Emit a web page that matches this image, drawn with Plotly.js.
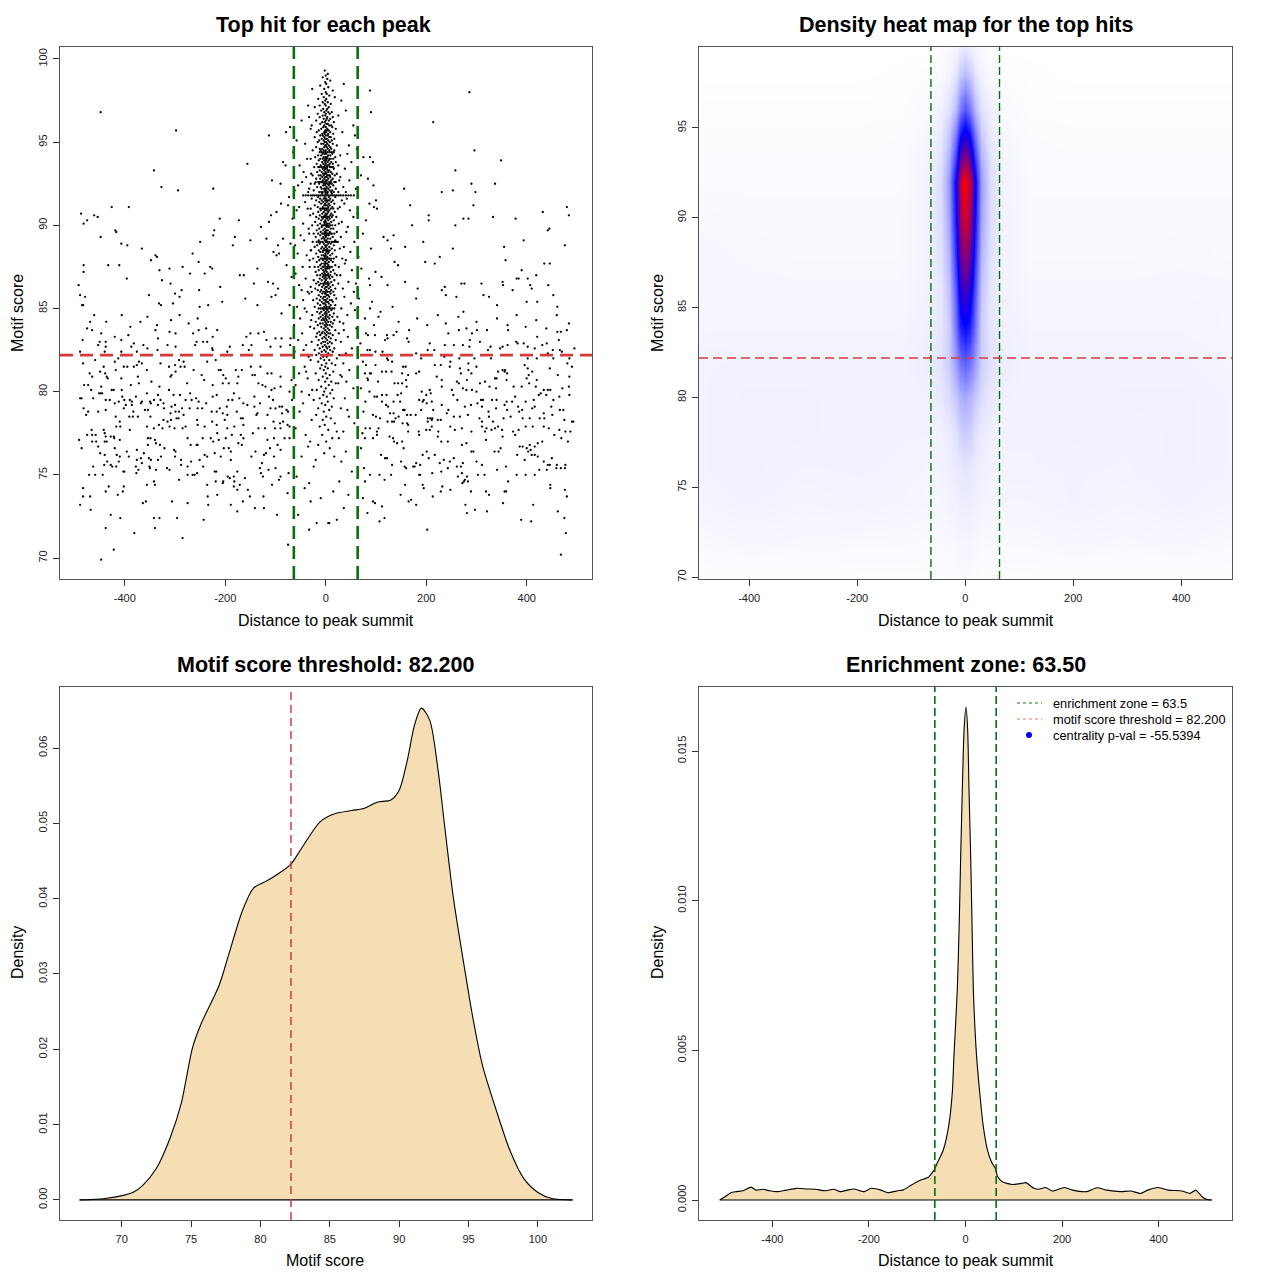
<!DOCTYPE html>
<html><head><meta charset="utf-8">
<script src="https://cdn.plot.ly/plotly-3.0.1.min.js"></script>
<style>html,body{margin:0;padding:0;background:#fff}#chart{width:1280px;height:1280px}</style>
</head><body><div id="chart"></div>
<script>
// ---------------- DATA ----------------
const enrichmentZone = 63.5;
const scoreThreshold = 82.2;
const distTicks = [-400,-200,0,200,400];
const distTickLabels = ["-400","-200","0","200","400"];

// Top hits away from the summit, upper part (score above ~83.7) and the extreme lows
const upperHits = [
[-448,96.8],[-298,95.7],[-342,93.3],[-327,92.3],[-294,92.1],[-224,92.2],[-156,93.7],[-113,95.4],[286,98.0],[214,96.2],
[296,94.5],[349,93.9],[258,93.3],[290,92.5],[337,92.5],[231,92.0],[253,92.1],[298,92.0],[156,92.2],[168,91.2],
[294,91.2],[480,91.1],[484,90.6],[432,90.8],[378,90.4],[333,90.5],[274,90.4],[284,90.4],[205,90.6],[205,90.3],
[258,90.0],[172,90.0],[-487,90.7],[-482,90.1],[-475,90.3],[-461,90.6],[-454,90.5],[-448,89.3],[-426,91.1],[-392,91.1],
[-433,87.6],[-411,87.6],[-482,87.6],[-482,87.2],[-492,86.4],[-489,85.8],[-479,85.7],[-485,85.2],[-419,89.7],[-417,89.6],
[-407,88.9],[-395,88.8],[-396,86.8],[-366,88.6],[-348,87.9],[-339,88.2],[-336,88.1],[-331,87.3],[-311,87.4],[-326,86.7],
[-309,86.5],[-285,87.5],[-270,87.1],[-287,86.1],[-300,85.9],[-265,88.3],[-253,87.8],[-250,89.0],[-222,89.7],[-224,89.4],
[-211,90.4],[-185,88.8],[-181,89.3],[-173,90.3],[-171,87.0],[-163,87.0],[-150,89.1],[-129,89.9],[-113,90.2],[-118,89.2],
[-136,87.4],[-143,86.5],[-210,86.3],[-230,87.5],[-226,87.4],[-241,87.1],[-252,86.1],[-352,85.8],[-332,85.3],[-291,85.7],
[-234,85.2],[-206,85.4],[-160,85.6],[-136,85.2],[-108,85.7],[-115,86.6],[-105,86.5],[-98,88.2],[-95,88.8],[-93,88.3],
[-89,91.3],[-109,90.6],[-107,92.7],[-85,93.8],[-79,95.6],[-73,91.7],[88,98.1],[90,96.8],[88,94.1],[94,93.8],
[100,91.5],[96,91.1],[87,91.3],[115,89.3],[135,89.4],[123,89.1],[130,88.6],[137,87.8],[144,87.6],[158,88.7],
[158,86.6],[111,86.9],[123,86.4],[88,86.4],[183,86.2],[180,85.6],[194,89.0],[198,87.8],[217,87.7],[227,88.1],
[231,86.1],[237,86.3],[253,88.6],[239,85.8],[260,85.7],[270,86.5],[274,84.8],[276,86.5],[310,86.5],[314,85.8],
[325,85.7],[341,85.2],[355,88.7],[358,87.9],[352,86.6],[353,86.4],[372,86.1],[380,86.8],[390,87.3],[384,86.8],
[402,86.8],[407,86.4],[410,86.2],[419,87.0],[394,89.1],[421,85.4],[400,85.4],[443,86.4],[453,85.8],[435,87.7],
[446,87.7],[442,89.7],[445,89.8],[461,85.1],[476,88.8],
[-483,85.2],[-461,84.6],[-437,84.2],[-469,84.2],[-475,83.8],[-406,84.6],[-328,85.2],[-304,85.3],[-251,85.1],
[-389,83.9],[-369,84.2],[-355,84.5],[-336,84.0],[-308,84.3],[-291,84.6],[-273,84.1],[-255,84.4],[-238,83.8],
[88,85.0],[109,84.8],[133,85.1],[96,84.0],[145,84.2],[166,83.7],[182,84.4],[202,84.0],[223,84.6],[239,84.1],
[264,84.5],[280,83.8],[300,84.2],[321,83.7],[341,84.4],[362,84.0],[380,84.6],[398,83.9],[419,84.3],[439,83.8],
[460,84.6],[484,84.1],
[-422,70.5],[-447,69.9],[-381,71.5],[-285,71.2],[-75,70.8],[202,71.7],[478,71.5],[468,70.2],
[-18,72.1],[-33,71.7],[-33,74.5],[7,72.1]
];

// Top hits left of the summit, lower part
const leftLowerHits = [
[-465,83.7],[-447,83.5],[-420,83.3],[-393,83.4],[-339,83.7],[-334,83.2],[-311,83.6],[-299,83.5],[-264,83.5],[-253,83.7],
[-225,83.3],[-216,83.7],[-158,83.3],[-150,83.5],[-134,83.5],[-123,83.6],[-118,83.1],[-100,83.2],[-88,83.2],[-484,83.1],
[-453,82.8],[-450,83.0],[-438,83.0],[-438,82.7],[-407,83.1],[-387,82.7],[-382,82.9],[-363,82.8],[-355,82.6],[-315,82.8],
[-299,82.7],[-260,82.8],[-257,83.0],[-244,83.0],[-236,83.0],[-226,82.6],[-225,82.5],[-191,82.7],[-165,82.8],[-148,82.8],
[-110,82.7],[-90,82.7],[-71,82.8],[-335,82.5],[-489,82.4],[-440,82.4],[-407,82.4],[-376,82.4],[-196,82.4],[-153,82.5],
[-483,81.7],[-459,81.9],[-442,81.5],[-413,82.0],[-420,81.8],[-372,81.8],[-366,81.7],[-329,81.7],[-292,81.9],[-283,81.8],
[-289,81.5],[-281,81.5],[-236,81.8],[-219,81.9],[-209,81.3],[-449,81.2],[-439,81.1],[-418,81.3],[-402,81.5],[-395,81.5],
[-376,81.6],[-356,81.3],[-382,81.5],[-312,81.5],[-300,81.6],[-299,81.2],[-263,81.3],[-213,81.3],[-204,81.0],[-179,81.3],
[-167,81.3],[-149,81.5],[-146,81.0],[-141,81.0],[-130,81.5],[-116,81.1],[-108,81.1],[-470,81.1],[-465,80.9],[-436,80.9],
[-434,80.8],[-407,80.8],[-374,80.9],[-309,80.9],[-307,81.0],[-247,81.0],[-199,80.8],[-174,80.9],[-134,80.5],[-90,80.9],
[-473,80.4],[-481,80.4],[-467,80.1],[-447,80.3],[-445,79.9],[-426,80.1],[-422,80.1],[-406,80.1],[-388,80.4],[-372,80.5],
[-347,80.6],[-331,80.3],[-312,80.1],[-276,80.5],[-242,80.7],[-225,80.4],[-205,80.5],[-193,80.5],[-176,80.5],[-126,80.4],
[-120,80.3],[-108,80.1],[-102,80.2],[-90,80.3],[-72,80.0],[-463,79.6],[-451,79.9],[-448,79.9],[-405,79.7],[-401,79.5],
[-390,79.5],[-378,79.7],[-368,79.3],[-356,79.9],[-342,79.5],[-350,79.4],[-334,79.8],[-329,79.5],[-303,79.8],[-290,79.8],
[-279,79.5],[-270,79.9],[-267,79.5],[-258,79.6],[-253,79.4],[-238,79.3],[-225,79.7],[-217,79.8],[-194,79.5],[-186,79.5],
[-183,79.9],[-172,79.6],[-164,79.3],[-156,79.2],[-142,79.7],[-113,79.7],[-105,79.5],[-489,79.6],[-486,79.6],[-438,79.5],
[-430,79.5],[-420,79.3],[-412,79.4],[-398,79.2],[-386,79.2],[-386,79.4],[-366,79.4],[-348,79.3],[-334,79.2],[-323,79.3],
[-307,79.1],[-300,79.2],[-292,78.8],[-286,79.0],[-271,79.0],[-255,79.0],[-211,79.0],[-197,79.1],[-142,79.1],[-131,79.3],
[-110,79.0],[-100,79.0],[-92,79.1],[-87,79.1],[-75,78.8],[-482,79.0],[-473,78.8],[-453,78.8],[-438,78.9],[-402,79.0],
[-383,78.8],[-374,78.5],[-360,78.9],[-354,78.9],[-349,78.5],[-322,79.0],[-309,78.7],[-299,78.8],[-283,78.6],[-246,79.0],
[-227,78.8],[-217,78.8],[-205,78.7],[-196,78.6],[-177,78.8],[-136,78.7],[-116,78.6],[-87,78.7],[-78,78.9],[-477,78.6],
[-418,78.5],[-391,78.5],[-384,78.5],[-323,78.3],[-315,78.2],[-308,78.3],[-297,78.4],[-293,78.4],[-256,78.3],[-226,78.2],
[-217,78.0],[-201,78.3],[-169,78.4],[-165,78.4],[-138,78.6],[-121,77.8],[-104,78.2],[-91,78.1],[-85,78.2],[-76,78.0],
[-410,78.2],[-417,77.9],[-409,77.9],[-390,77.7],[-356,77.9],[-342,77.8],[-332,78.0],[-325,77.8],[-311,77.9],[-301,77.8],
[-285,77.8],[-279,77.9],[-255,78.0],[-241,77.9],[-216,77.5],[-196,77.8],[-182,77.9],[-164,78.0],[-134,77.8],[-101,77.8],
[-90,77.8],[-72,77.9],[-466,77.7],[-465,77.4],[-475,77.4],[-458,77.4],[-442,77.7],[-440,77.5],[-438,77.3],[-428,77.3],
[-422,77.3],[-421,77.2],[-491,77.1],[-465,77.0],[-457,77.0],[-440,77.0],[-436,77.0],[-410,77.1],[-354,77.2],[-340,77.1],
[-349,77.2],[-338,76.9],[-330,76.8],[-275,77.2],[-255,76.8],[-245,77.2],[-229,77.2],[-224,77.0],[-213,77.1],[-199,77.2],
[-187,77.4],[-169,77.4],[-164,77.2],[-145,77.5],[-116,77.1],[-103,77.2],[-82,77.2],[-72,77.2],[-486,76.6],[-453,76.7],
[-420,76.6],[-396,76.4],[-376,76.5],[-362,76.3],[-354,76.8],[-321,76.6],[-302,76.5],[-299,76.4],[-269,76.8],[-257,76.8],
[-236,76.1],[-221,76.3],[-203,76.6],[-193,76.6],[-189,76.4],[-174,76.9],[-167,76.8],[-140,76.4],[-119,76.3],[-103,76.1],
[-90,76.5],[-449,76.3],[-440,76.2],[-416,76.2],[-410,76.1],[-392,76.1],[-376,75.9],[-368,76.0],[-352,76.0],[-348,75.9],
[-328,76.1],[-300,76.1],[-288,75.9],[-268,75.8],[-251,75.9],[-241,76.2],[-209,76.1],[-189,75.9],[-148,76.1],[-127,75.7],
[-123,76.2],[-111,76.6],[-96,76.8],[-441,75.6],[-435,75.8],[-428,75.6],[-425,75.5],[-417,75.5],[-412,75.8],[-403,75.2],
[-378,75.5],[-373,75.3],[-366,75.7],[-351,75.5],[-334,75.9],[-316,75.4],[-288,75.6],[-275,75.5],[-265,75.0],[-261,75.0],
[-244,75.5],[-221,75.2],[-218,75.2],[-195,74.9],[-183,74.9],[-176,75.2],[-131,75.4],[-129,75.1],[-114,75.3],[-100,75.4],
[-90,74.9],[-74,75.1],[-471,75.0],[-463,75.5],[-459,75.0],[-444,75.0],[-401,75.2],[-377,75.1],[-350,75.4],[-338,75.3],
[-311,75.3],[-292,74.7],[-275,75.0],[-256,75.1],[-204,74.6],[-191,74.8],[-182,74.6],[-171,74.4],[-161,74.8],[-125,74.9],
[-107,74.4],[-93,74.7],[-483,74.2],[-432,74.3],[-402,74.3],[-414,73.8],[-438,74.0],[-404,74.0],[-356,74.4],[-342,74.6],
[-340,74.4],[-236,74.4],[-219,74.6],[-205,74.5],[-176,74.1],[-183,74.3],[-155,74.1],[-151,73.7],[-124,73.7],[-76,73.9],
[-483,73.7],[-469,73.7],[-489,73.2],[-468,72.9],[-428,72.6],[-409,72.4],[-364,73.3],[-358,73.4],[-306,73.4],[-275,73.3],
[-235,73.7],[-234,73.2],[-216,73.8],[-189,73.2],[-165,73.4],[-176,72.8],[-141,73.0],[-123,73.0],[-97,72.6],[-342,72.4],
[-331,72.4],[-296,72.4],[-243,72.3],[-438,71.8],[-340,71.8]
];

// Top hits right of the summit, lower part
const rightLowerHits = [
[84,83.4],[98,83.4],[122,83.4],[135,83.4],[141,83.6],[80,83.5],[118,83.1],[123,83.2],[244,83.5],[265,83.7],
[291,83.5],[301,83.7],[307,83.0],[363,83.7],[379,83.0],[382,82.9],[394,82.9],[421,83.3],[431,82.8],[440,82.9],
[461,83.6],[468,83.6],[480,83.7],[464,83.1],[207,82.9],[216,82.5],[237,82.8],[255,82.8],[273,82.8],[286,82.7],
[287,83.1],[347,82.6],[352,82.7],[362,82.8],[328,82.7],[323,82.5],[162,83.2],[165,83.0],[402,82.7],[416,82.6],
[452,82.5],[466,82.5],[495,82.6],[470,82.4],[442,82.3],[99,82.4],[113,82.4],[180,82.3],[203,82.5],[83,82.5],
[88,82.5],[122,82.0],[124,81.9],[132,81.8],[190,82.0],[236,82.1],[248,81.8],[266,82.0],[296,82.0],[329,82.0],
[402,82.0],[420,82.0],[453,82.0],[485,82.0],[74,81.8],[80,81.6],[99,81.6],[154,81.5],[159,81.5],[217,81.6],
[229,81.6],[247,81.5],[284,81.7],[284,81.3],[300,81.5],[343,81.2],[352,81.3],[357,81.3],[361,81.1],[396,81.6],
[402,81.4],[411,81.2],[404,81.0],[446,81.4],[481,81.7],[490,81.5],[78,81.1],[88,81.1],[90,81.1],[112,81.2],
[120,81.2],[131,81.2],[152,81.1],[164,81.0],[180,81.1],[186,81.2],[221,80.9],[231,80.7],[267,81.4],[269,81.1],
[281,80.7],[290,81.1],[337,80.8],[340,80.8],[356,81.2],[360,80.7],[400,80.8],[405,80.5],[420,80.7],[462,81.0],
[485,80.9],[83,80.8],[84,80.7],[104,80.6],[137,80.5],[152,80.5],[160,80.7],[161,80.3],[144,80.5],[261,80.6],
[265,80.5],[307,80.5],[317,80.6],[326,80.3],[339,80.2],[374,80.3],[390,80.3],[418,80.3],[434,80.1],[442,80.1],
[447,80.1],[471,80.2],[484,80.3],[70,80.2],[87,80.0],[97,79.7],[102,79.7],[112,79.8],[121,79.8],[143,79.8],
[150,79.9],[191,80.0],[200,79.8],[207,80.1],[209,79.9],[231,80.3],[251,80.1],[254,79.8],[273,80.2],[280,80.1],
[291,80.1],[300,80.0],[309,79.5],[313,79.5],[331,79.5],[340,79.5],[360,79.4],[371,79.4],[377,79.7],[398,79.4],
[414,79.5],[428,79.9],[424,79.8],[439,79.8],[453,79.5],[465,79.7],[485,79.8],[79,79.4],[112,79.4],[120,79.2],
[124,79.1],[135,79.4],[148,79.4],[186,79.5],[193,79.4],[195,79.5],[201,79.3],[211,79.4],[214,78.9],[231,79.2],
[244,78.9],[262,79.5],[277,79.1],[289,79.2],[302,79.3],[311,79.1],[324,78.8],[339,79.0],[356,79.2],[361,78.9],
[383,79.1],[391,78.9],[411,79.0],[416,79.1],[434,78.7],[449,79.1],[466,78.9],[473,78.9],[75,78.8],[94,78.6],
[100,78.5],[108,78.4],[128,78.7],[135,78.7],[139,78.4],[145,78.5],[154,78.9],[157,78.9],[162,78.6],[169,78.6],
[179,78.6],[190,78.9],[203,78.4],[208,78.4],[212,78.4],[223,78.3],[229,78.3],[241,78.7],[255,78.5],[267,78.5],
[283,78.6],[306,78.4],[311,78.2],[325,78.5],[333,78.2],[354,78.4],[368,78.5],[385,78.8],[392,78.4],[406,78.4],
[426,78.4],[435,78.4],[451,78.6],[475,78.3],[490,78.2],[493,78.2],[79,77.8],[88,77.8],[105,77.8],[123,78.2],
[132,78.2],[136,78.2],[153,78.1],[162,78.1],[164,78.0],[164,77.6],[185,77.6],[200,77.7],[203,78.2],[211,78.3],
[211,77.9],[224,77.6],[248,77.9],[257,77.7],[271,77.8],[290,77.6],[311,77.9],[317,77.6],[320,77.8],[330,77.7],
[337,77.8],[343,77.9],[351,77.7],[373,77.6],[377,77.4],[384,77.7],[398,77.9],[412,77.9],[434,77.9],[444,77.8],
[465,77.7],[477,77.6],[487,77.6],[73,77.5],[78,77.2],[94,77.2],[102,77.4],[102,77.6],[127,77.3],[134,77.2],
[136,77.0],[142,76.9],[152,77.0],[155,76.6],[186,77.4],[207,77.7],[223,77.3],[230,77.0],[243,77.0],[271,76.8],
[280,76.9],[319,77.1],[352,77.3],[386,76.7],[392,76.7],[400,76.6],[406,76.8],[416,76.7],[422,76.9],[431,77.0],
[455,77.4],[469,77.2],[482,77.0],[70,76.6],[110,76.2],[118,76.0],[122,76.0],[132,75.6],[150,75.8],[157,75.5],
[174,75.5],[180,75.7],[188,75.6],[193,76.2],[201,76.4],[205,76.0],[217,76.2],[227,75.7],[235,75.9],[247,75.8],
[255,76.0],[261,75.5],[269,75.5],[273,75.7],[290,76.4],[294,76.4],[300,75.8],[311,75.6],[336,76.4],[344,76.4],
[348,76.6],[359,75.5],[381,76.2],[396,75.9],[403,76.4],[408,76.5],[410,76.2],[416,76.2],[422,76.1],[434,75.8],
[442,75.6],[450,76.0],[460,75.6],[468,75.4],[477,75.6],[476,75.4],[76,75.4],[78,74.6],[88,75.0],[107,75.0],
[117,74.7],[130,75.0],[160,75.4],[177,75.5],[186,75.0],[188,75.0],[212,75.1],[230,75.2],[243,75.4],[263,74.9],
[271,75.1],[277,74.7],[281,74.9],[283,74.6],[303,75.0],[316,75.0],[341,75.3],[363,74.6],[380,75.0],[398,75.0],
[416,75.0],[425,75.3],[440,75.3],[446,75.6],[459,75.4],[74,73.6],[94,73.4],[98,73.3],[112,73.1],[83,72.7],
[107,72.2],[117,72.4],[149,73.8],[158,74.4],[165,73.4],[170,73.5],[180,73.2],[193,74.4],[195,74.2],[213,73.7],
[229,74.0],[232,74.3],[248,74.1],[272,74.5],[275,74.6],[289,74.0],[319,74.0],[325,73.8],[356,74.0],[359,74.0],
[353,73.3],[278,73.2],[281,72.7],[297,72.9],[321,72.8],[389,72.3],[409,72.2],[413,73.2],[447,74.4],[447,74.2],
[476,74.1],[480,73.7],[462,72.8],[475,72.4]
];

// Hits in the halo around the summit (|distance| roughly 20-110)
const haloHits = [
[-35,97.2],[40,96.9],[-48,96.3],[55,96.0],[-30,95.8],[33,95.6],[-58,95.1],[-41,94.9],[46,94.8],[62,94.6],
[-65,94.4],[29,94.2],[-37,94.0],[51,93.8],[-52,93.6],[38,93.4],[-44,93.2],[70,93.0],[-29,93.1],[43,94.3],
[-33,96.5],[31,97.5],[-27,98.2],[36,98.5],[58,95.4],[-71,95.9],[75,94.1],[-80,93.6],[84,92.8],
[-39,92.9],[47,92.7],[-55,92.4],[35,92.3],[-62,92.1],[60,92.2],[-47,92.6],[29,92.9],[-33,92.2],[40,92.0],[-90,92.5],[95,92.4],
[-41,91.4],[37,91.3],[-53,91.1],[48,90.9],[-31,90.6],[63,90.7],[-66,90.4],[32,90.2],[-45,90.1],[55,90.5],
[-36,91.0],[42,91.6],[-75,91.2],[80,90.3],[-98,90.8],[102,91.0],[-58,90.9],[28,91.1],
[-34,89.8],[41,89.6],[-50,89.4],[30,89.3],[-43,89.1],[57,89.0],[-61,88.8],[36,88.7],[-29,88.5],[49,88.4],
[-38,88.2],[65,88.1],[-70,88.9],[33,88.0],[-56,88.3],[44,89.9],[-85,89.2],[90,88.6],[-104,88.4],[74,89.5],
[-32,87.9],[38,87.7],[-46,87.5],[52,87.3],[-60,87.1],[29,87.0],[-40,86.8],[45,86.6],[-53,86.4],[34,86.2],
[-36,86.0],[60,86.5],[-68,86.9],[71,87.4],[-30,86.3],[40,87.9],[-78,87.6],[86,86.8],[-95,86.2],[99,87.2],[-48,86.1],[56,86.0],
[-33,85.9],[37,85.7],[-45,85.5],[50,85.3],[-57,85.1],[31,85.0],[-38,84.8],[43,84.6],[-51,84.4],[28,84.2],
[-63,84.0],[58,84.9],[-29,84.3],[66,85.6],[-72,85.2],[78,84.4],[-88,84.7],[92,85.4],[-42,85.0],[35,84.1],[-100,85.8],[105,84.5],
[-31,83.9],[36,83.7],[-47,83.5],[44,83.3],[-55,83.1],[30,83.0],[-39,82.8],[52,82.6],[-62,82.4],[27,82.2],
[-34,82.1],[61,83.8],[-70,83.2],[69,82.9],[-44,82.5],[40,82.3],
[-30,81.9],[35,81.7],[-42,81.5],[47,81.3],[-53,81.1],[29,81.0],[-36,80.8],[41,80.6],[-60,80.4],[55,80.2],
[-27,80.1],[32,80.9],[-48,80.0],[64,81.5],[-68,80.7],[-39,81.2],[25,80.5],
[-33,79.8],[38,79.6],[-45,79.3],[30,79.0],[-52,78.8],[46,78.5],[-28,78.3],[57,78.1],[-60,77.8],[35,77.6],
[-40,77.4],[26,77.2],[-67,79.5],[-31,77.0],[43,78.9],
[-35,76.7],[40,76.4],[-48,76.1],[31,75.8],[-24,75.5],[52,75.2],[-58,74.9],[27,74.6],[-42,74.2],[45,73.8],
[-30,73.4],[36,73.0],[-55,72.6],[22,72.3],[-20,75.9],[15,74.0],[-10,73.6],[5,72.1]
];

// Hits in the dense core at the summit
const coreHits = [
[-2,99.3],[4,99.1],[0,99.0],[-6,98.9],[3,98.8],[9,98.7],[-1,98.6],[1,98.5],[-11,98.4],[5,98.3],[-3,98.2],[14,98.1],[0,98.0],
[-8,97.9],[2,97.9],[7,97.8],[-4,97.7],[18,97.7],[-15,97.6],[1,97.6],[-1,97.5],
[4,97.4],[-6,97.4],[10,97.3],[-2,97.3],[0,97.2],[-12,97.2],[6,97.1],[-22,97.1],[3,97.0],[-5,97.0],
[1,96.9],[-9,96.9],[12,96.8],[-3,96.8],[5,96.8],[-16,96.7],[0,96.7],[8,96.7],[-1,96.6],[25,96.6],[-6,96.6],[3,96.5],[-12,96.5],[14,96.5],
[-4,96.4],[2,96.4],[9,96.4],[-19,96.3],[0,96.3],[6,96.3],[-7,96.2],[16,96.2],[-2,96.2],[4,96.1],[-11,96.1],[1,96.1],[-28,96.0],[11,96.0],[-3,96.0],[7,96.0],
[0,95.9],[-5,95.9],[13,95.9],[3,95.8],[-9,95.8],[20,95.8],[-1,95.7],[6,95.7],[-14,95.7],[2,95.7],[-3,95.6],[9,95.6],[-18,95.6],[1,95.6],[5,95.5],[-7,95.5],[15,95.5],[-2,95.5],
[-6,95.4],[4,95.4],[-11,95.4],[0,95.4],[10,95.3],[-3,95.3],[7,95.3],[-22,95.3],[2,95.2],[-8,95.2],[17,95.2],[-1,95.2],[5,95.1],[-13,95.1],[12,95.1],[-4,95.1],[1,95.0],[-16,95.0],[8,95.0],[-2,95.0],
[3,94.9],[-9,94.9],[14,94.9],[-5,94.9],[0,94.8],[22,94.8],[-1,94.8],[6,94.8],[-19,94.7],[9,94.7],[-3,94.7],[2,94.7],[-12,94.6],[11,94.6],[-7,94.6],[4,94.6],[-26,94.5],[0,94.5],[17,94.5],[-4,94.5],[7,94.5],[-10,94.5],
[-12,94.4],[-8,94.4],[-4,94.4],[0,94.4],[4,94.4],[8,94.4],[12,94.4],[16,94.4],
[1,94.3],[-6,94.3],[13,94.3],[-2,94.3],[5,94.2],[-15,94.2],[9,94.2],[-9,94.2],[0,94.1],[19,94.1],[-4,94.1],[3,94.1],[-21,94.1],[7,94.0],[-1,94.0],[-11,94.0],[15,94.0],[2,94.0],[-6,94.0],[10,94.0],[-30,94.0],
[-3,93.9],[6,93.9],[-14,93.9],[1,93.9],[11,93.8],[-7,93.8],[4,93.8],[-1,93.8],[20,93.8],[-18,93.7],[0,93.7],[8,93.7],[-5,93.7],[14,93.7],[-10,93.6],[3,93.6],[-2,93.6],[25,93.6],[6,93.6],[-23,93.5],[1,93.5],[-8,93.5],[12,93.5],[-4,93.5],[9,93.5],[-13,93.5],
[-15,93.5],[-9,93.5],[-3,93.5],[3,93.5],[9,93.5],[15,93.5],
[2,93.4],[-6,93.4],[16,93.4],[-1,93.4],[7,93.3],[-12,93.3],[4,93.3],[-3,93.3],[10,93.2],[-17,93.2],[0,93.2],[5,93.2],[-8,93.2],[22,93.1],[-2,93.1],[13,93.1],[-5,93.1],[1,93.1],[-26,93.0],[8,93.0],[-10,93.0],[3,93.0],[-4,93.0],[18,93.0],[-14,93.0],[6,93.0],
[-1,92.9],[9,92.9],[-7,92.9],[2,92.9],[-19,92.8],[14,92.8],[-3,92.8],[5,92.8],[-11,92.8],[0,92.7],[11,92.7],[-6,92.7],[27,92.7],[3,92.7],[-15,92.6],[7,92.6],[-2,92.6],[1,92.6],[-9,92.6],[17,92.6],[-4,92.5],[4,92.5],[-22,92.5],[12,92.5],[0,92.5],[-13,92.5],[8,92.5],[-30,92.5],
[-20,92.6],[-12,92.6],[-6,92.6],[10,92.6],[20,92.6],
[6,92.4],[-5,92.4],[15,92.4],[-1,92.4],[2,92.3],[-10,92.3],[9,92.3],[-17,92.3],[0,92.2],[20,92.2],[-3,92.2],[5,92.2],[-8,92.2],[13,92.1],[-2,92.1],[1,92.1],[-24,92.1],[8,92.1],[-6,92.0],[3,92.0],[-13,92.0],[11,92.0],[-1,92.0],[16,92.0],[-35,92.0],[4,92.0],[-9,92.0],[25,92.0],
[-45,91.8],[-40,91.8],[-35,91.8],[-30,91.8],[-26,91.8],[-22,91.8],[-18,91.8],[-14,91.8],[-10,91.8],[-6,91.8],[-2,91.8],[2,91.8],[6,91.8],[10,91.8],[14,91.8],[18,91.8],[22,91.8],[26,91.8],[30,91.8],[35,91.8],[40,91.8],[45,91.8],[50,91.8],[56,91.8],
[0,91.9],[-7,91.9],[12,91.9],[3,91.9],[-15,91.7],[6,91.7],[-2,91.7],[19,91.7],[-4,91.6],[1,91.6],[9,91.6],[-11,91.6],[-28,91.6],[4,91.5],[-1,91.5],[14,91.5],[-8,91.5],[7,91.5],[-19,91.5],[0,91.5],[32,91.5],
[2,91.4],[-5,91.4],[11,91.4],[-13,91.4],[-1,91.3],[6,91.3],[17,91.3],[-9,91.3],[3,91.2],[-3,91.2],[-22,91.2],[8,91.2],[0,91.2],[13,91.1],[-6,91.1],[-16,91.1],[5,91.1],[1,91.0],[-2,91.0],[24,91.0],[-11,91.0],[10,91.0],[-4,91.0],[4,91.0],[-30,91.0],[15,91.0],[-7,91.0],[0,91.0],
[7,90.9],[-1,90.9],[-10,90.9],[2,90.9],[18,90.8],[-4,90.8],[-15,90.8],[5,90.8],[0,90.7],[11,90.7],[-7,90.7],[-25,90.7],[3,90.7],[-2,90.6],[9,90.6],[-12,90.6],[14,90.6],[1,90.6],[-5,90.5],[6,90.5],[-19,90.5],[21,90.5],[-1,90.5],[4,90.5],[-8,90.5],[12,90.5],[-3,90.5],[0,90.5],
[8,90.4],[-6,90.4],[2,90.4],[-14,90.4],[16,90.3],[-1,90.3],[5,90.3],[-9,90.3],[0,90.2],[-21,90.2],[11,90.2],[-3,90.2],[3,90.1],[-11,90.1],[7,90.1],[-2,90.1],[26,90.1],[1,90.0],[-7,90.0],[13,90.0],[-16,90.0],[4,90.0],[-4,90.0],[9,90.0],[-27,90.0],[0,90.0],[19,90.0],[-1,90.0],
[6,89.9],[-8,89.9],[2,89.9],[-13,89.8],[10,89.8],[-2,89.8],[15,89.8],[-5,89.7],[1,89.7],[-18,89.7],[4,89.7],[-1,89.6],[8,89.6],[-10,89.6],[22,89.6],[0,89.6],[-4,89.5],[3,89.5],[-24,89.5],[12,89.5],[-7,89.5],[5,89.5],[-15,89.5],[17,89.5],[-3,89.5],[1,89.5],[-33,89.5],[9,89.5],
[-1,89.4],[6,89.4],[-11,89.4],[2,89.4],[14,89.3],[-5,89.3],[0,89.3],[-20,89.3],[9,89.2],[-3,89.2],[4,89.2],[-8,89.2],[19,89.1],[-14,89.1],[1,89.1],[-2,89.1],[7,89.0],[-6,89.0],[12,89.0],[-26,89.0],[3,89.0],[-10,89.0],[0,89.0],[24,89.0],
[-18,89.0],[-14,89.0],[15,89.0],[18,89.0],[21,89.0],
[-4,88.9],[5,88.9],[-12,88.9],[10,88.9],[-1,88.8],[2,88.8],[-17,88.8],[16,88.8],[-7,88.7],[7,88.7],[0,88.7],[-22,88.7],[3,88.6],[-3,88.6],[12,88.6],[-9,88.6],[28,88.6],[1,88.5],[-5,88.5],[8,88.5],[-14,88.5],[-2,88.5],[4,88.5],[18,88.5],[-30,88.5],[0,88.5],
[6,88.4],[-6,88.4],[-11,88.4],[2,88.4],[13,88.3],[-1,88.3],[-19,88.3],[4,88.3],[9,88.2],[-4,88.2],[0,88.2],[-8,88.2],[21,88.1],[-2,88.1],[3,88.1],[-15,88.1],[11,88.0],[-7,88.0],[1,88.0],[-25,88.0],[7,88.0],[-3,88.0],[16,88.0],[-10,88.0],[5,88.0],[0,88.0],
[-5,87.9],[2,87.9],[10,87.9],[-13,87.9],[-1,87.8],[6,87.8],[-18,87.8],[14,87.8],[3,87.7],[-3,87.7],[-8,87.7],[0,87.7],[19,87.6],[-11,87.6],[5,87.6],[-2,87.6],[8,87.5],[-22,87.5],[1,87.5],[-6,87.5],[12,87.5],[-4,87.5],[26,87.5],[4,87.5],[-15,87.5],[-32,87.5],
[7,87.4],[-1,87.4],[-9,87.4],[3,87.4],[15,87.3],[-5,87.3],[0,87.3],[-14,87.3],[10,87.2],[-3,87.2],[2,87.2],[-20,87.2],[5,87.1],[-7,87.1],[18,87.1],[-2,87.1],[1,87.0],[-11,87.0],[9,87.0],[-4,87.0],[22,87.0],[-17,87.0],[4,87.0],[0,87.0],
[-6,86.9],[6,86.9],[-1,86.9],[13,86.9],[-12,86.8],[2,86.8],[-3,86.8],[8,86.8],[-24,86.7],[0,86.7],[17,86.7],[-8,86.7],[4,86.6],[-2,86.6],[11,86.6],[-15,86.6],[1,86.5],[-5,86.5],[7,86.5],[-10,86.5],[25,86.5],[3,86.5],[-19,86.5],[-1,86.5],
[5,86.4],[-4,86.4],[14,86.4],[-13,86.4],[0,86.3],[9,86.3],[-7,86.3],[2,86.3],[-21,86.2],[-2,86.2],[6,86.2],[19,86.2],[-9,86.1],[1,86.1],[-16,86.1],[11,86.1],[3,86.0],[-5,86.0],[-1,86.0],[8,86.0],[-28,86.0],[15,86.0],[-11,86.0],[4,86.0],
[0,85.9],[-7,85.9],[10,85.9],[-2,85.9],[5,85.8],[-14,85.8],[2,85.8],[17,85.8],[-4,85.7],[-10,85.7],[7,85.7],[-1,85.7],[21,85.6],[-18,85.6],[3,85.6],[-6,85.6],[12,85.5],[0,85.5],[-3,85.5],[-25,85.5],[8,85.5],[-12,85.5],
[4,85.4],[-8,85.4],[1,85.4],[14,85.4],[-2,85.3],[-16,85.3],[6,85.3],[-5,85.3],[10,85.2],[0,85.2],[-11,85.2],[19,85.2],[-3,85.1],[2,85.1],[-22,85.1],[7,85.1],[-7,85.0],[1,85.0],[13,85.0],[-1,85.0],[-14,85.0],[5,85.0],
[-10,85.0],[-5,85.0],[9,85.0],[17,85.0],
[-4,84.9],[3,84.9],[11,84.9],[-9,84.8],[0,84.8],[-17,84.8],[6,84.8],[-2,84.7],[16,84.7],[-12,84.7],[2,84.7],[-6,84.6],[8,84.6],[-27,84.6],[1,84.6],[-1,84.5],[-10,84.5],[13,84.5],[4,84.5],[23,84.5],
[-5,84.4],[7,84.4],[-14,84.4],[0,84.4],[2,84.3],[-8,84.3],[17,84.3],[-3,84.3],[10,84.2],[-20,84.2],[5,84.2],[-1,84.2],[-11,84.1],[1,84.1],[14,84.1],[-6,84.1],[3,84.0],[-16,84.0],[8,84.0],[-2,84.0],
[0,83.9],[-9,83.9],[12,83.9],[4,83.8],[-4,83.8],[-23,83.8],[7,83.7],[-1,83.7],[19,83.7],[-13,83.6],[2,83.6],[-6,83.6],[9,83.5],[-2,83.5],[-17,83.5],[5,83.5],[26,83.5],[-8,83.5],
[1,83.4],[-11,83.4],[14,83.4],[-3,83.3],[6,83.3],[-19,83.3],[0,83.2],[10,83.2],[-7,83.2],[3,83.1],[-14,83.1],[20,83.1],[-1,83.0],[8,83.0],[-5,83.0],[-28,83.0],
[4,82.9],[-9,82.9],[12,82.9],[-2,82.8],[-16,82.8],[7,82.7],[1,82.7],[-6,82.7],[17,82.6],[-12,82.6],[3,82.6],[-22,82.5],[9,82.5],[-3,82.5],
[0,82.4],[-8,82.4],[14,82.4],[5,82.3],[-14,82.3],[-2,82.2],[10,82.2],[-19,82.2],[2,82.1],[-5,82.1],[22,82.0],[-10,82.0],
[-3,81.9],[7,81.9],[-15,81.8],[1,81.7],[12,81.7],[-8,81.6],[19,81.6],[-1,81.5],
[4,81.4],[-11,81.4],[-4,81.3],[15,81.2],[0,81.1],[-20,81.1],[8,81.0],
[-6,80.9],[3,80.8],[-14,80.7],[11,80.6],[-1,80.6],[20,80.5],
[6,80.4],[-9,80.3],[0,80.2],[-18,80.1],[13,80.1],[-3,80.0],
[9,79.9],[-5,79.8],[2,79.7],[-12,79.6],[16,79.6],[-24,79.5],
[4,79.4],[-8,79.3],[-1,79.2],[12,79.1],[-15,79.0],
[7,78.9],[-4,78.8],[-19,78.6],[1,78.5],[10,78.4],[-6,78.3],[18,78.1],[-2,78.0],
[-12,77.9],[5,77.7],[22,77.6],[-7,77.4],[13,77.2],[1,77.0],[-15,76.8],[8,76.6],[-3,76.3],[17,76.1]
];

// Density heat map grid (relative density, 0..1)
const heatDist  = [-490,-400,-300,-200,-120,-70,-45,-30,-18,-9,0,9,18,30,45,70,120,200,300,400,490];
const heatScore = [70,72,74,76,78,80,82,84,86,88,90,92,94,96,98,99.5];
const heatDensity = [
[0.004,0.004,0.004,0.004,0.004,0.004,0.005,0.005,0.008,0.01,0.01,0.01,0.008,0.005,0.005,0.004,0.004,0.004,0.004,0.004,0.004],
[0.012,0.016,0.014,0.012,0.012,0.01,0.012,0.013,0.016,0.02,0.02,0.02,0.016,0.013,0.012,0.012,0.012,0.016,0.014,0.016,0.012],
[0.02,0.025,0.02,0.023,0.02,0.017,0.02,0.022,0.028,0.035,0.035,0.035,0.028,0.022,0.02,0.02,0.02,0.025,0.02,0.025,0.02],
[0.024,0.03,0.024,0.025,0.024,0.02,0.025,0.03,0.04,0.045,0.05,0.045,0.04,0.03,0.025,0.024,0.024,0.025,0.024,0.03,0.024],
[0.024,0.03,0.03,0.025,0.025,0.025,0.028,0.04,0.06,0.09,0.10,0.09,0.06,0.04,0.028,0.025,0.025,0.03,0.025,0.03,0.024],
[0.024,0.03,0.03,0.025,0.03,0.03,0.045,0.07,0.11,0.15,0.17,0.15,0.11,0.07,0.045,0.03,0.025,0.025,0.03,0.03,0.024],
[0.024,0.025,0.025,0.025,0.025,0.035,0.06,0.10,0.20,0.28,0.32,0.28,0.20,0.10,0.06,0.035,0.025,0.025,0.025,0.025,0.02],
[0.02,0.02,0.02,0.02,0.02,0.03,0.05,0.10,0.28,0.44,0.50,0.44,0.28,0.10,0.05,0.03,0.02,0.02,0.02,0.02,0.016],
[0.016,0.016,0.016,0.016,0.016,0.025,0.05,0.12,0.34,0.56,0.64,0.56,0.34,0.12,0.05,0.025,0.016,0.016,0.016,0.016,0.016],
[0.016,0.014,0.012,0.012,0.012,0.025,0.06,0.15,0.42,0.70,0.80,0.70,0.42,0.15,0.06,0.025,0.012,0.012,0.012,0.014,0.012],
[0.014,0.012,0.012,0.012,0.012,0.025,0.07,0.18,0.48,0.82,0.92,0.82,0.48,0.18,0.07,0.025,0.012,0.012,0.012,0.012,0.012],
[0.01,0.01,0.01,0.01,0.01,0.025,0.07,0.20,0.52,0.88,1.00,0.88,0.52,0.20,0.07,0.025,0.01,0.01,0.01,0.01,0.01],
[0.006,0.006,0.006,0.006,0.008,0.018,0.05,0.13,0.32,0.55,0.66,0.55,0.32,0.13,0.05,0.018,0.008,0.006,0.006,0.006,0.006],
[0.004,0.004,0.004,0.004,0.004,0.01,0.03,0.06,0.14,0.26,0.34,0.26,0.14,0.06,0.03,0.01,0.004,0.004,0.004,0.004,0.004],
[0,0,0,0,0.002,0.004,0.01,0.025,0.05,0.10,0.13,0.10,0.05,0.025,0.01,0.004,0.002,0,0,0,0],
[0,0,0,0,0,0,0.005,0.01,0.02,0.03,0.04,0.03,0.02,0.01,0.005,0,0,0,0,0,0]
];

// Motif score density
const scoreGrid = [66.96,68.8,70.8,71.5,72.5,73.5,74.3,75.1,75.7,77.0,77.7,78.7,79.5,80.4,81.2,82.2,83.0,84.3,85.4,86.6,87.5,88.4,89.4,90.0,90.6,91.1,91.6,92.2,92.8,93.3,93.9,94.6,95.3,96.0,97.0,98.0,99.0,100.0,101.0,102.5];
const scoreDensity = [0,0.0002,0.001,0.0019,0.0042,0.0083,0.0129,0.0202,0.0233,0.0284,0.0325,0.0384,0.0414,0.0423,0.0432,0.0446,0.0468,0.0502,0.0513,0.0517,0.0520,0.0528,0.0531,0.0544,0.0585,0.0630,0.0653,0.0637,0.0571,0.0493,0.0402,0.0320,0.0243,0.0179,0.0119,0.0065,0.0028,0.001,0.0002,0];

// Distance-to-summit density
const distGrid = [-509,-496,-486,-475,-461,-444,-434,-420,-406,-388,-371,-350,-329,-311,-290,-273,-259,-245,-231,-210,-196,-175,-161,-140,-130,-112,-95,-77,-70,-65,-58,-46,-34,-27,-24,-17,-13,-10,-6.6,-3,1,4.5,7.3,10.8,13.5,16.3,23,29,36,45.5,54.5,62,66,76,97,118,125,142,152,166,180,205,222,251,272,293,321,342,363,377,399,420,448,465,477,490,500,510];
const distDensity = [0,0.000134,0.000245,0.00028,0.00031,0.00043,0.00033,0.00036,0.00031,0.00028,0.00033,0.00039,0.00037,0.00036,0.00031,0.00036,0.00028,0.00033,0.00037,0.00028,0.00039,0.00033,0.000245,0.00031,0.00033,0.0005,0.00065,0.00076,0.00089,0.001,0.00125,0.00167,0.00256,0.00367,0.00479,0.00701,0.00924,0.01146,0.01369,0.0157,0.01647,0.0157,0.01369,0.01146,0.00924,0.00701,0.00479,0.00367,0.00256,0.00167,0.00125,0.00105,0.0008,0.00061,0.00052,0.00056,0.00058,0.00039,0.00036,0.00042,0.0003,0.00042,0.00033,0.00028,0.00041,0.00033,0.00028,0.0003,0.00022,0.00033,0.00042,0.00033,0.0003,0.00022,0.00033,0.00011,0.00002,0];

const legendLabels = ["enrichment zone = 63.5","motif score threshold = 82.200","centrality p-val = -55.5394"];
const panelTitles = ["Top hit for each peak","Density heat map for the top hits","Motif score threshold: 82.200","Enrichment zone: 63.50"];

// ---------------- BUILD ----------------
const allHits = upperHits.concat(leftLowerHits, rightLowerHits, haloHits, coreHits);
const FONT = "Liberation Sans, Arial, Helvetica, sans-serif";
const W = 1280;
const px = v => v / W;
const py = v => 1 - v / W;

const traces = [
  {type:'scatter', mode:'markers', x: allHits.map(p=>p[0]), y: allHits.map(p=>p[1]),
   xaxis:'x', yaxis:'y', marker:{color:'#000', size:2.3}, hoverinfo:'skip'},
  {type:'heatmap', x: heatDist, y: heatScore, z: heatDensity, xaxis:'x2', yaxis:'y2',
   zsmooth:'best', zmin:0, zmax:1, showscale:false,
   colorscale:[[0,'#ffffff'],[0.5,'#0000ff'],[1,'#ff0000']], hoverinfo:'skip'},
  {type:'scatter', mode:'lines', x: scoreGrid, y: scoreDensity, xaxis:'x3', yaxis:'y3',
   fill:'tozeroy', fillcolor:'#F5DEB3', line:{color:'#000', width:1.1, shape:'spline', smoothing:0.8}, hoverinfo:'skip'},
  {type:'scatter', mode:'lines', x: [scoreGrid[0], scoreGrid[scoreGrid.length-1]], y:[0,0], xaxis:'x3', yaxis:'y3',
   line:{color:'#000', width:1.2}, hoverinfo:'skip'},
  {type:'scatter', mode:'lines', x: distGrid, y: distDensity, xaxis:'x4', yaxis:'y4',
   fill:'tozeroy', fillcolor:'#F5DEB3', line:{color:'#000', width:1.1, shape:'spline', smoothing:0.6}, hoverinfo:'skip'},
  {type:'scatter', mode:'lines', x: [distGrid[0], distGrid[distGrid.length-1]], y:[0,0], xaxis:'x4', yaxis:'y4',
   line:{color:'#000', width:1.2}, hoverinfo:'skip'}
];

function axis(domain, range, tickvals, opts) {
  return Object.assign({
    domain: domain, range: range, tickvals: tickvals, ticks:'outside', ticklen:6, tickwidth:1,
    tickcolor:'#333', showline:true, mirror:true, linecolor:'#555', linewidth:1,
    showgrid:false, zeroline:false, tickfont:{family:FONT, size:11, color:'#222'}, fixedrange:true
  }, opts || {});
}
const topY = [py(579), py(47)];
const botY = [py(1220), py(687)];
const leftX = [px(60), px(592)];
const rightX = [px(699), px(1232)];

const layout = {
  width:1280, height:1280, margin:{l:0,r:0,t:0,b:0},
  paper_bgcolor:'#fff', plot_bgcolor:'#fff', showlegend:false,
  font:{family:FONT},
  xaxis: axis(leftX, [-529,530], distTicks, {anchor:'y', ticktext:distTickLabels, ticklabelstandoff:3}),
  yaxis: axis(topY, [68.74,100.72], [70,75,80,85,90,95,100], {anchor:'x', tickangle:-90, ticklabelstandoff:2}),
  xaxis2: axis(rightX, [-493,494], distTicks, {anchor:'y2', ticktext:distTickLabels, ticklabelstandoff:3}),
  yaxis2: axis(topY, [69.9,99.5], [70,75,80,85,90,95], {anchor:'x2', tickangle:-90, ticklabelstandoff:2}),
  xaxis3: axis(leftX, [65.55,103.9], [70,75,80,85,90,95,100], {anchor:'y3', ticklabelstandoff:3}),
  yaxis3: axis(botY, [-0.00266,0.0681], [0,0.01,0.02,0.03,0.04,0.05,0.06], {anchor:'x3', tickangle:-90, tickformat:'.2f', ticklabelstandoff:2}),
  xaxis4: axis(rightX, [-552,552], distTicks, {anchor:'y4', ticktext:distTickLabels, ticklabelstandoff:3}),
  yaxis4: axis(botY, [-0.000668,0.01714], [0,0.005,0.01,0.015], {anchor:'x4', tickangle:-90, tickformat:'.3f', ticklabelstandoff:2}),
  shapes: [],
  annotations: []
};

const green = '#0a6e0a';
function vline(xa, ya, x, color, width, dash) {
  layout.shapes.push({type:'line', xref:xa, yref:ya+' domain', x0:x, x1:x, y0:0, y1:1,
    line:{color:color, width:width, dash:dash}});
}
function hline(xa, ya, y, color, width, dash) {
  layout.shapes.push({type:'line', xref:xa+' domain', yref:ya, x0:0, x1:1, y0:y, y1:y,
    line:{color:color, width:width, dash:dash}});
}
vline('x','y',-enrichmentZone, green, 2.6, '13px,7px');
vline('x','y', enrichmentZone, green, 2.6, '13px,7px');
hline('x','y', scoreThreshold, '#d83a3a', 2.6, '13px,7px');
vline('x2','y2',-enrichmentZone, green, 1.4, '8px,4px');
vline('x2','y2', enrichmentZone, green, 1.4, '8px,4px');
hline('x2','y2', scoreThreshold, '#d83a3a', 1.6, '9px,5px');
vline('x3','y3', scoreThreshold, '#c83232', 1.4, '8px,5px');
vline('x4','y4',-enrichmentZone, green, 1.6, '8px,4px');
vline('x4','y4', enrichmentZone, green, 1.6, '8px,4px');

// legend (panel 4)
layout.shapes.push({type:'line', xref:'paper', yref:'paper', x0:px(1017), x1:px(1042), y0:py(703), y1:py(703), line:{color:'#1a6e1a', width:1.2, dash:'dot'}});
layout.shapes.push({type:'line', xref:'paper', yref:'paper', x0:px(1017), x1:px(1042), y0:py(719), y1:py(719), line:{color:'#f07070', width:1.2, dash:'dot'}});
layout.shapes.push({type:'circle', xref:'paper', yref:'paper', x0:px(1026), x1:px(1032), y0:py(738), y1:py(732), fillcolor:'#0000ff', line:{color:'#0000ff', width:0}});
[703,719,735].forEach((yy,i)=>{
  layout.annotations.push({xref:'paper', yref:'paper', x:px(1051), y:py(yy), xanchor:'left', yanchor:'middle',
    text:legendLabels[i], showarrow:false, font:{family:FONT, size:12.8, color:'#000'}});
});

const titlePos = [[323,25],[966,25],[326,665],[966,665]];
titlePos.forEach((p,i)=>{
  layout.annotations.push({xref:'paper', yref:'paper', x:px(p[0]), y:py(p[1]), xanchor:'center', yanchor:'middle',
    text:'<b>'+panelTitles[i]+'</b>', showarrow:false, font:{family:FONT, size:21.5, color:'#000'}});
});
const xTitles = [["Distance to peak summit",326,620],["Distance to peak summit",966,620],["Motif score",325,1260],["Distance to peak summit",966,1260]];
xTitles.forEach(t=>{
  layout.annotations.push({xref:'paper', yref:'paper', x:px(t[1]), y:py(t[2]), xanchor:'center', yanchor:'middle',
    text:t[0], showarrow:false, font:{family:FONT, size:16, color:'#000'}});
});
const yTitles = [["Motif score",17,313],["Motif score",657,313],["Density",17,953],["Density",657,953]];
yTitles.forEach(t=>{
  layout.annotations.push({xref:'paper', yref:'paper', x:px(t[1]), y:py(t[2]), xanchor:'center', yanchor:'middle',
    textangle:-90, text:t[0], showarrow:false, font:{family:FONT, size:16, color:'#000'}});
});

Plotly.newPlot('chart', traces, layout, {staticPlot:true, displayModeBar:false});
</script>
</body></html>
